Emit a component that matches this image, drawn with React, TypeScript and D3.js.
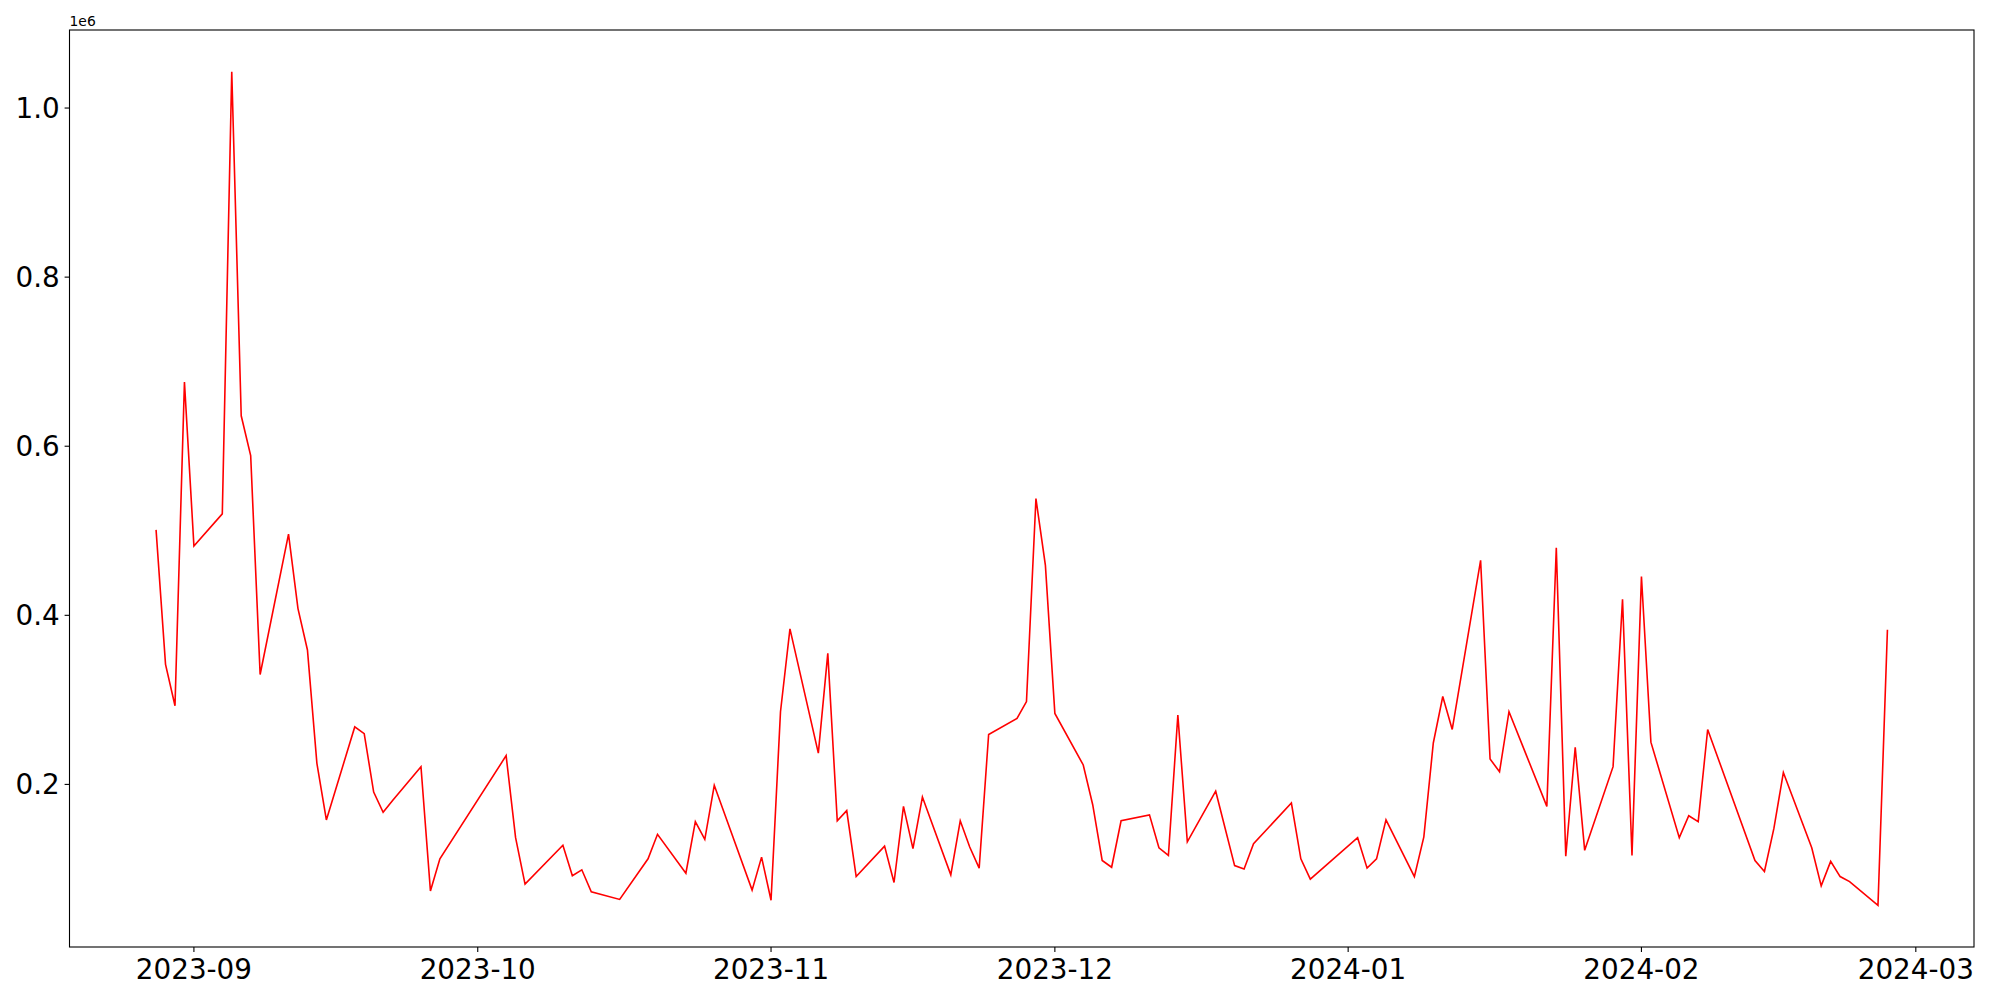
import React from "react";
import * as d3 from "d3";

const dates: string[] = [
  "2023-08-28","2023-08-29","2023-08-30","2023-08-31","2023-09-01",
  "2023-09-04","2023-09-05","2023-09-06","2023-09-07","2023-09-08",
  "2023-09-11","2023-09-12","2023-09-13","2023-09-14","2023-09-15",
  "2023-09-18","2023-09-19","2023-09-20","2023-09-21","2023-09-22",
  "2023-09-25","2023-09-26","2023-09-27","2023-10-04","2023-10-05",
  "2023-10-06","2023-10-10","2023-10-11","2023-10-12","2023-10-13",
  "2023-10-16","2023-10-19","2023-10-20","2023-10-23","2023-10-24",
  "2023-10-25","2023-10-26","2023-10-30","2023-10-31","2023-11-01",
  "2023-11-02","2023-11-03","2023-11-06","2023-11-07","2023-11-08",
  "2023-11-09","2023-11-10","2023-11-13","2023-11-14","2023-11-15",
  "2023-11-16","2023-11-17","2023-11-20","2023-11-21","2023-11-22",
  "2023-11-23","2023-11-24","2023-11-27","2023-11-28","2023-11-29",
  "2023-11-30","2023-12-01","2023-12-04","2023-12-05","2023-12-06",
  "2023-12-07","2023-12-08","2023-12-11","2023-12-12","2023-12-13",
  "2023-12-14","2023-12-15","2023-12-18","2023-12-20","2023-12-21",
  "2023-12-22","2023-12-26","2023-12-27","2023-12-28","2024-01-02",
  "2024-01-03","2024-01-04","2024-01-05","2024-01-08","2024-01-09",
  "2024-01-10","2024-01-11","2024-01-12","2024-01-15","2024-01-16",
  "2024-01-17","2024-01-18","2024-01-22","2024-01-23","2024-01-24",
  "2024-01-25","2024-01-26","2024-01-29","2024-01-30","2024-01-31",
  "2024-02-01","2024-02-02","2024-02-05","2024-02-06","2024-02-07",
  "2024-02-08","2024-02-13","2024-02-14","2024-02-15","2024-02-16",
  "2024-02-19","2024-02-20","2024-02-21","2024-02-22","2024-02-23",
  "2024-02-26","2024-02-27",
];

const values: number[] = [
  501000, 342000, 293000, 676000, 482000,
  520000, 1043000, 636000, 589000, 330000,
  496000, 408000, 359000, 225000, 158000,
  268000, 260000, 191000, 167000, 181000,
  221000, 74000, 112000, 234000, 137000,
  82000, 128000, 92000, 99000, 73000,
  64000, 112000, 141000, 95000, 156000,
  135000, 199000, 75000, 114000, 63000,
  286000, 384000, 237000, 355000, 157000,
  169000, 91000, 127000, 84000, 174000,
  124000, 185000, 93000, 157000, 126000,
  101000, 259000, 278000, 298000, 538000,
  459000, 284000, 223000, 176000, 110000,
  102000, 157000, 164000, 125000, 116000,
  282000, 132000, 192000, 104000, 100000,
  130000, 178000, 112000, 88000, 137000,
  101000, 112000, 158000, 91000, 138000,
  249000, 304000, 265000, 465000, 230000,
  215000, 286000, 174000, 480000, 115000,
  244000, 122000, 221000, 419000, 116000,
  446000, 250000, 137000, 163000, 156000,
  265000, 110000, 97000, 148000, 214000,
  125000, 80000, 109000, 91000, 85000,
  57000, 383000,
];

const yTicks: number[] = [200000, 400000, 600000, 800000, 1000000];

const W = 2000;
const H = 1000;
const left = 69.5;
const right = 1974;
const top = 30;
const bottom = 947;
const FONT = "'DejaVu Sans', sans-serif";

export default function App() {
  const pts = dates.map((d, i) => ({ t: new Date(d + "T00:00:00Z"), v: values[i] }));
  const [t0, t1] = d3.extent(pts, (p) => p.t) as [Date, Date];
  const span = +t1 - +t0;
  const x = d3
    .scaleUtc()
    .domain([new Date(+t0 - span * 0.05), new Date(+t1 + span * 0.05)])
    .range([left, right]);
  const [v0, v1] = d3.extent(values) as [number, number];
  const vr = v1 - v0;
  const y = d3
    .scaleLinear()
    .domain([v0 - vr * 0.05, v1 + vr * 0.05])
    .range([bottom, top]);

  const line = d3
    .line<{ t: Date; v: number }>()
    .x((p) => x(p.t))
    .y((p) => y(p.v));

  const xTicks = x.ticks(d3.utcMonth.every(1) as any);
  const fmt = d3.utcFormat("%Y-%m");

  return (
    <svg
      width={W}
      height={H}
      style={{ position: "fixed", left: 0, top: 0, background: "#fff" }}
      fontFamily={FONT}
    >
      <rect x={0} y={0} width={W} height={H} fill="#fff" />
      <path d={line(pts) || ""} fill="none" stroke="#ff0000" strokeWidth={1.6} strokeLinejoin="miter" />
      <rect
        x={left}
        y={top}
        width={right - left}
        height={bottom - top}
        fill="none"
        stroke="#000"
        strokeWidth={1.1}
      />
      {xTicks.map((t, i) => (
        <g key={"x" + i}>
          <line x1={x(t)} x2={x(t)} y1={bottom} y2={bottom + 4.9} stroke="#000" strokeWidth={1.1} />
          <text x={x(t)} y={bottom + 32} textAnchor="middle" fontSize={27.8} fill="#000">
            {fmt(t)}
          </text>
        </g>
      ))}
      {yTicks.map((v, i) => (
        <g key={"y" + i}>
          <line x1={left - 4.9} x2={left} y1={y(v)} y2={y(v)} stroke="#000" strokeWidth={1.1} />
          <text x={left - 9.8} y={y(v) + 10} textAnchor="end" fontSize={27.8} fill="#000">
            {(v / 1e6).toFixed(1)}
          </text>
        </g>
      ))}
      <text x={left} y={26} fontSize={13.9} fill="#000">
        1e6
      </text>
    </svg>
  );
}
